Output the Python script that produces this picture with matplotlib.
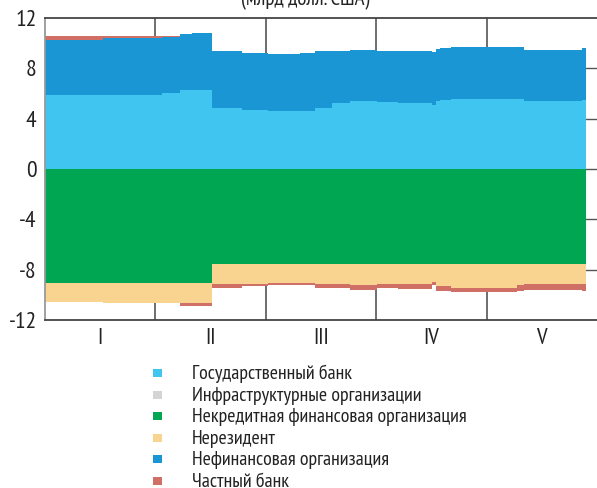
import numpy as np
import matplotlib
matplotlib.use('Agg')
from matplotlib import pyplot as plt
from matplotlib.patches import Rectangle

plt.rcParams['font.family'] = ['PT Sans Narrow', 'DejaVu Sans']

# segment start positions (in months from start of January) and end of data
seg_start = [0.0, 0.525, 1.06, 1.223, 1.332, 1.513, 1.784, 2.02, 2.31, 2.446,
             2.6, 2.763, 3.007, 3.197, 3.505, 3.542, 3.578, 3.678, 4.275,
             4.339, 4.864]
data_end = 4.9

month_labels = ['I', 'II', 'III', 'IV', 'V']

# values, bn USD
gov_bank = [5.86, 5.90, 6.02, 6.28, 6.28, 4.86, 4.72, 4.64, 4.59, 4.86, 5.22,
            5.38, 5.30, 5.22, 5.12, 5.44, 5.52, 5.54, 5.54, 5.44, 5.52]
infra_org = [0.0] * 21
nonbank_fin = [-9.03, -9.03, -9.03, -9.03, -9.03, -7.52, -7.52, -7.52, -7.52,
               -7.52, -7.52, -7.52, -7.52, -7.52, -7.52, -7.52, -7.52, -7.52,
               -7.52, -7.52, -7.52]
nonresident = [-1.57, -1.62, -1.62, -1.62, -1.62, -1.59, -1.59, -1.51, -1.51,
               -1.59, -1.59, -1.67, -1.59, -1.59, -1.46, -1.81, -1.81, -1.94,
               -1.73, -1.65, -1.65]
nonfin_org = [4.42, 4.48, 4.44, 4.47, 4.53, 4.49, 4.53, 4.50, 4.60, 4.54, 4.18,
              4.10, 4.10, 4.13, 4.15, 4.10, 4.10, 4.13, 4.13, 4.04, 4.10]
private_bank = [0.29, 0.22, 0.14, -0.25, -0.26, -0.32, -0.19, -0.16, -0.16,
                -0.35, -0.35, -0.40, -0.35, -0.40, -0.27, -0.37, -0.37, -0.32,
                -0.47, -0.42, -0.55]

series = [
    ('Государственный банк', gov_bank, '#3FC5F0'),
    ('Инфраструктурные организации', infra_org, '#D4D4D4'),
    ('Некредитная финансовая организация', nonbank_fin, '#00A651'),
    ('Нерезидент', nonresident, '#F8D490'),
    ('Нефинансовая организация', nonfin_org, '#1A96D4'),
    ('Частный банк', private_bank, '#CF6F66'),
]

x = np.array(seg_start)
widths = np.diff(np.append(x, data_end))

W, H = 597, 488
fig = plt.figure(figsize=(W / 100, H / 100), dpi=100)
ax = fig.add_axes([45 / W, 168 / H, 565 / W, 302 / H])

# stack positives upward and negatives downward separately
pos_bottom = np.zeros(len(x))
neg_bottom = np.zeros(len(x))
for name, vals, color in series:
    vals = np.array(vals)
    bottom = np.where(vals >= 0, pos_bottom, neg_bottom)
    ax.bar(x, vals, width=widths, bottom=bottom, align='edge', color=color,
           linewidth=0, antialiased=False, label=name, zorder=2)
    pos_bottom += np.clip(vals, 0, None)
    neg_bottom += np.clip(vals, None, 0)

ax.set_xlim(0, 565 / 110.4)
ax.set_ylim(-12, 12)
ax.set_yticks(np.arange(-12, 13, 4))
ax.set_yticklabels([str(v) for v in range(-12, 13, 4)])
ax.set_xticks(np.arange(5) + 0.5)
ax.set_xticklabels(month_labels)
ax.tick_params(axis='both', length=0, colors='#222222')
ax.tick_params(axis='y', pad=6, labelsize=17)
ax.tick_params(axis='x', pad=6, labelsize=16.5)

# month separators and horizontal grid behind the bars
for m in range(1, 5):
    ax.axvline(m, color='#555555', linewidth=1.2, zorder=1)
for yv in [-8, -4, 0, 4, 8]:
    ax.axhline(yv, color='#555555', linewidth=1.0, zorder=1)

for side in ['top', 'bottom']:
    ax.spines[side].set_color('#444444')
    ax.spines[side].set_linewidth(1.3)
ax.spines['left'].set_color('#999999')
ax.spines['left'].set_linewidth(1.3)
ax.spines['right'].set_visible(False)

# title sits mostly above the picture, only its lower part shows
fig.text(305 / W, 1 - 5 / H, '(млрд долл. США)', ha='center',
         va='baseline', fontsize=15, color='#222222')

# legend: one row per series, square marker and label
row_step = 21.6
for i, (name, vals, color) in enumerate(series):
    baseline = 379.0 + i * row_step
    fig.add_artist(Rectangle((153 / W, 1 - (baseline - 2) / H), 9 / W, 8 / H,
                             transform=fig.transFigure, color=color,
                             linewidth=0))
    fig.text(192 / W, 1 - baseline / H, name, ha='left', va='baseline',
             fontsize=14.4, color='#222222')

fig.savefig('out.png', dpi=100)
